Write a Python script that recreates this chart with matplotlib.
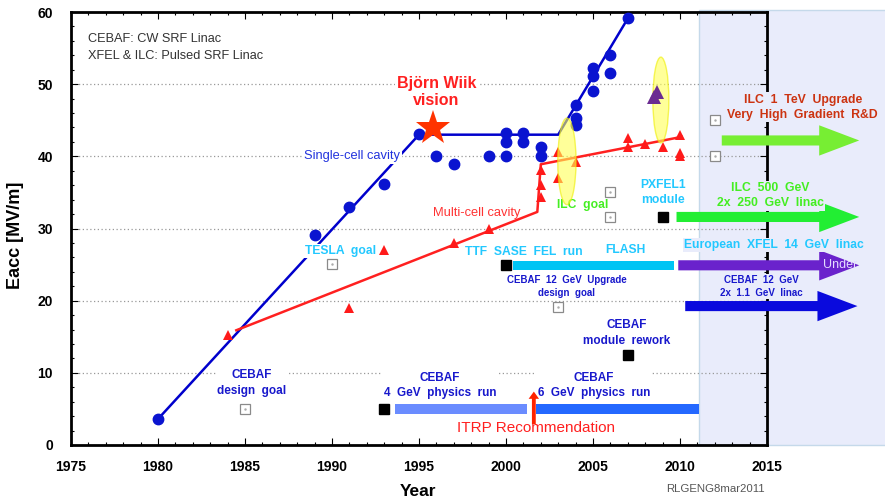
import matplotlib.pyplot as plt
from matplotlib.patches import Ellipse, FancyArrow, Rectangle
from matplotlib.ticker import MultipleLocator

plt.rcParams['font.family'] = ['Liberation Sans', 'DejaVu Sans']

# single-cell cavity results
single_year = [1980, 1989, 1991, 1993, 1995, 1996, 1997, 1999, 2000, 2000, 2000,
               2001, 2001, 2002, 2002, 2004, 2004, 2004, 2005, 2005, 2005, 2006, 2006, 2007]
single_eacc = [3.6, 29.1, 33.0, 36.1, 43.1, 40.0, 39.0, 40.0, 40.0, 43.2, 42.0,
               43.2, 42.0, 41.3, 40.0, 47.1, 45.3, 44.4, 52.2, 51.1, 49.0, 54.1, 51.5, 59.1]

# multi-cell cavity results
multi_year = [1984, 1991, 1993, 1997, 1999, 2002, 2002, 2002, 2003, 2003, 2004,
              2007, 2007, 2008, 2009, 2010, 2010, 2010]
multi_eacc = [15.2, 19.0, 27.0, 28.0, 30.0, 38.1, 36.0, 34.4, 37.0, 40.6, 39.2,
              42.6, 41.3, 41.7, 41.3, 42.9, 40.5, 40.0]

# trend lines
single_trend_year = [1980, 1995, 2003, 2007]
single_trend_eacc = [3.6, 43.0, 43.0, 59.1]
multi_trend_year = [1984.5, 2001.8, 2002.0, 2010.1]
multi_trend_eacc = [15.9, 32.3, 38.9, 42.7]

# design goals (open squares) and milestones (filled squares)
goal_year = [1985, 1990, 2003, 2006, 2006, 2012, 2012]
goal_eacc = [5.0, 25.1, 19.1, 35.0, 31.6, 45.0, 40.0]
milestone_year = [1993, 2000, 2007, 2009]
milestone_eacc = [5.0, 24.9, 12.5, 31.6]

# XFEL prototype modules and Wiik's vision
xfel_year = [2008.5, 2008.7]
xfel_eacc = [48.2, 48.9]
wiik_year = [1995.8]
wiik_eacc = [43.9]

# ILC goal bands
ilc_year = [2003.5, 2008.9]
ilc_eacc = [39.3, 47.8]
ilc_span_year = [1.05, 0.92]
ilc_span_eacc = [12.0, 11.9]

# operating periods: CEBAF 4 GeV, CEBAF 6 GeV, TTF/FLASH
run_start = [1993.6, 2001.7, 2000.4]
run_end = [2001.2, 2011.1, 2009.65]
run_eacc = [5.0, 5.0, 24.9]
run_color = ['#6A8CFF', '#2468FF', '#00C4F4']

# future projects: ILC 1 TeV, ILC 500 GeV, European XFEL, CEBAF 12 GeV
plan_start = [2012.4, 2009.8, 2009.9, 2010.3]
plan_end = [2020.3, 2020.3, 2020.3, 2020.2]
plan_eacc = [42.2, 31.6, 24.9, 19.25]
plan_color = ['#77EE33', '#22EE33', '#6A22CC', '#0A0ADD']

# ITRP recommendation
itrp_year = 2001.6
itrp_eacc = [2.9, 7.4]

fig = plt.figure(figsize=(8.85, 4.99), dpi=100)
ax = fig.add_axes([71 / 885, 1 - 445 / 499, 696 / 885, 433 / 499])
ax.set_xlim(1975, 2015)
ax.set_ylim(0, 60)

shade = '#E9ECFB'
ax.add_patch(Rectangle((2011.1, 0), 12, 60.3, fc=shade, ec='#C5D9EA', lw=1,
                       clip_on=False, zorder=0.2))

ax.set_axisbelow(True)
ax.yaxis.grid(True, color='#999999', lw=0.9, linestyle=(0, (1, 2)))

for sp in ax.spines.values():
    sp.set_linewidth(2)
ax.xaxis.set_major_locator(MultipleLocator(5))
ax.xaxis.set_minor_locator(MultipleLocator(1))
ax.yaxis.set_major_locator(MultipleLocator(10))
ax.yaxis.set_minor_locator(MultipleLocator(2))
ax.tick_params(which='both', direction='in', top=True, right=True, width=0.8)
ax.tick_params(which='major', length=5)
ax.tick_params(which='minor', length=2.5)
ax.tick_params(axis='x', which='major', pad=11, labelsize=10)
ax.tick_params(axis='y', which='major', pad=13, labelsize=10)
for lab in ax.get_xticklabels() + ax.get_yticklabels():
    lab.set_fontweight('bold')

# trend lines and measurements
ax.plot(single_trend_year, single_trend_eacc, color='#0000CC', lw=1.8, zorder=2)
ax.plot(multi_trend_year, multi_trend_eacc, color='#FF2020', lw=1.8, zorder=2)
ax.plot(single_year, single_eacc, 'o', color='#0A14D0', ms=7.5, zorder=3)
ax.plot(multi_year, multi_eacc, '^', color='#FF1A1A', ms=7, mew=0, zorder=3)
ax.plot(wiik_year, wiik_eacc, '*', color='#FF3300', ms=26, mew=0, zorder=4)

ax.plot(goal_year, goal_eacc, 's', mfc='white', mec='#8A8A8A', mew=0.9, ms=6.5, zorder=3)
ax.plot(goal_year, goal_eacc, '.', color='#AAAAAA', ms=1.5, zorder=3)
ax.plot(milestone_year, milestone_eacc, 's', color='black', ms=6.5, zorder=3)

for x, y, w, h in zip(ilc_year, ilc_eacc, ilc_span_year, ilc_span_eacc):
    ax.add_patch(Ellipse((x, y), w, h, fc='#FFFF55', ec='#EEEE00', alpha=0.6,
                         lw=1, zorder=4))
ax.plot(xfel_year, xfel_eacc, '^', color='#6B2C91', ms=10, mew=0, zorder=5)

# operating periods
for s, e, y, c in zip(run_start, run_end, run_eacc, run_color):
    ax.barh(y, e - s, left=s, height=1.3, color=c, zorder=3)

# future projects
for s, e, y, c in zip(plan_start, plan_end, plan_eacc, plan_color):
    ax.add_patch(FancyArrow(s, y, e - s, 0, width=1.4, head_width=4.2,
                            head_length=2.3, length_includes_head=True,
                            fc=c, ec='none', clip_on=False, zorder=3))

ax.add_patch(FancyArrow(itrp_year, itrp_eacc[0], 0, itrp_eacc[1] - itrp_eacc[0],
                        width=0.22, head_width=0.6, head_length=1.0,
                        length_includes_head=True, fc='#FF2200', ec='none', zorder=4))

white = dict(fc='white', ec='none', pad=1)
lav = dict(fc=shade, ec='none', pad=1)
cyan = '#22C8FF'
navy = '#1818CC'
green = '#44EE22'

ax.text(1976.0, 55.05, 'CEBAF: CW SRF Linac\nXFEL & ILC: Pulsed SRF Linac',
        fontsize=9.2, color='#333333', va='center', linespacing=1.5)
ax.text(1988.4, 40, 'Single-cell cavity', fontsize=9.3, color='#2233DD',
        va='center', bbox=white, zorder=2.5)
ax.text(1995.8, 32.1, 'Multi-cell cavity', fontsize=9.3, color='#FF3333', va='center')
ax.text(1996.0, 48.9, 'Björn Wiik\nvision', fontsize=11.5, fontweight='bold',
        color='#FF2020', ha='center', va='center', linespacing=1.2, bbox=white)

bold = dict(fontweight='bold', ha='center', va='center', linespacing=1.38)
small = dict(fontweight='bold', ha='center', va='center', linespacing=1.3)
ax.text(1990.5, 26.9, 'TESLA  goal', fontsize=8.7, color=cyan, bbox=white, zorder=2.5, **bold)
ax.text(2001.0, 26.7, 'TTF  SASE  FEL  run', fontsize=8.7, color=cyan, **bold)
ax.text(2006.85, 27.0, 'FLASH', fontsize=8.7, color=cyan, **bold)
ax.text(2009.0, 35.0, 'PXFEL1\nmodule', fontsize=8.7, color=cyan, **bold)
ax.text(2004.4, 33.2, 'ILC  goal', fontsize=8.7, color=green, **bold)
ax.text(2003.5, 21.95, 'CEBAF  12  GeV  Upgrade\ndesign  goal', fontsize=7, color=navy, **small)
ax.text(2006.95, 15.5, 'CEBAF\nmodule  rework', fontsize=8.5, color=navy, **bold)
ax.text(1985.4, 8.6, 'CEBAF\ndesign  goal', fontsize=8.5, color=navy, bbox=white, **bold)
ax.text(1996.2, 8.25, 'CEBAF\n4  GeV  physics  run', fontsize=8.5, color=navy, bbox=white, **bold)
ax.text(2005.05, 8.25, 'CEBAF\n6  GeV  physics  run', fontsize=8.5, color=navy, bbox=white, **bold)
ax.text(2001.7, 2.35, 'ITRP Recommendation', fontsize=11, color='#FF2020',
        ha='center', va='center')

ax.text(2010.25, 27.7, 'European  XFEL  14  GeV  linac', fontsize=8.7, color=cyan,
        fontweight='bold', va='center', bbox=lav, zorder=4)
ax.text(2018.2, 24.9, 'Under', fontsize=9, color='#E4DCFF', va='center', zorder=4)
ax.text(2014.7, 21.95, 'CEBAF  12  GeV\n2x  1.1  GeV  linac', fontsize=7, color=navy,
        bbox=lav, zorder=4, **small)
ax.text(2017.05, 46.8, 'ILC  1  TeV  Upgrade\nVery  High  Gradient  R&D', fontsize=8.8,
        color='#CC3311', bbox=lav, zorder=4, **bold)
ax.text(2015.2, 34.55, 'ILC  500  GeV\n2x  250  GeV  linac', fontsize=8.8,
        color=green, bbox=lav, zorder=4, **bold)

fig.text(16 / 885, 1 - 235 / 499, 'Eacc [MV/m]', rotation=90, fontsize=13,
         fontweight='bold', ha='center', va='center')
fig.text(418 / 885, 1 - 491 / 499, 'Year', fontsize=12.5, fontweight='bold',
         ha='center', va='center')
fig.text(715 / 885, 1 - 489 / 499, 'RLGENG8mar2011', fontsize=8.2, color='#555555',
         ha='center', va='center')

fig.savefig('out.png', dpi=100)
